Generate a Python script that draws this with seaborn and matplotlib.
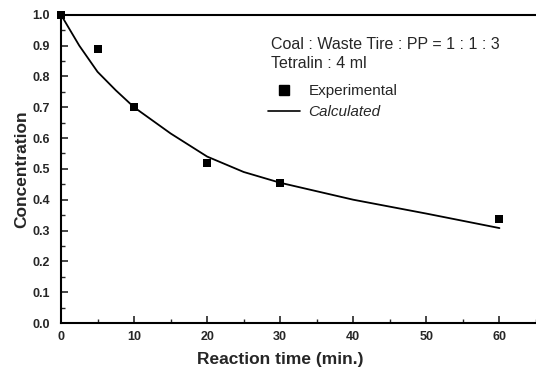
import matplotlib
matplotlib.use("Agg")
import matplotlib.pyplot as plt
import seaborn as sns
import pandas as pd
from matplotlib.ticker import MultipleLocator
from matplotlib.lines import Line2D

exp_time = [0, 5, 10, 20, 30, 60]
exp_conc = [1.0, 0.89, 0.70, 0.52, 0.453, 0.337]
calc_time = [0, 2.5, 5, 7.5, 10, 15, 20, 25, 30, 40, 50, 60]
calc_conc = [1.0, 0.90, 0.815, 0.755, 0.70, 0.615, 0.54, 0.49, 0.455, 0.40, 0.355, 0.308]
x_ticks = [0, 10, 20, 30, 40, 50, 60]
y_ticks = [0.0, 0.1, 0.2, 0.3, 0.4, 0.5, 0.6, 0.7, 0.8, 0.9, 1.0]

sns.set_style("ticks")
plt.rcParams['font.family'] = ['Liberation Sans', 'DejaVu Sans']

fig = plt.figure(figsize=(5.36, 3.70), dpi=100)
ax = fig.add_axes([0.1138, 0.127, 0.8862, 0.833])

df_exp = pd.DataFrame({"t": exp_time, "c": exp_conc})
df_calc = pd.DataFrame({"t": calc_time, "c": calc_conc})
sns.lineplot(data=df_calc, x="t", y="c", ax=ax, color="black", lw=1.3)
sns.scatterplot(data=df_exp, x="t", y="c", ax=ax, color="black", marker="s",
                s=40, edgecolor="black", linewidth=0, zorder=5, clip_on=False)

ax.set_xlim(0, 65)
ax.set_ylim(0, 1.0)
ax.set_xticks(x_ticks)
ax.set_yticks(y_ticks)
ax.set_yticklabels([f"{v:.1f}" for v in y_ticks])
ax.xaxis.set_minor_locator(MultipleLocator(5))
ax.yaxis.set_minor_locator(MultipleLocator(0.05))
ax.tick_params(axis="both", which="major", direction="in", length=5, width=1.2,
               labelsize=9)
ax.tick_params(axis="x", which="major", pad=6)
ax.tick_params(axis="y", which="major", pad=8)
ax.tick_params(axis="both", which="minor", direction="in", length=3, width=1.0)
for lab in ax.get_xticklabels() + ax.get_yticklabels():
    lab.set_fontweight("bold")

for s in ["left", "bottom", "top"]:
    ax.spines[s].set_linewidth(1.5)
    ax.spines[s].set_color("black")
ax.spines["right"].set_visible(False)

ax.set_xlabel("Reaction time (min.)", fontsize=12.5, fontweight="bold")
ax.xaxis.set_label_coords(0.462, -0.094)
ax.set_ylabel("Concentration", fontsize=12.5, fontweight="bold", labelpad=2.5)

ax.text(0.442, 0.905, "Coal : Waste Tire : PP = 1 : 1 : 3", transform=ax.transAxes,
        fontsize=11.5, ha="left", va="center")
ax.text(0.442, 0.842, "Tetralin : 4 ml", transform=ax.transAxes,
        fontsize=11.5, ha="left", va="center")

handles = [Line2D([], [], color="black", marker="s", ls="none", markersize=6.5),
           Line2D([], [], color="black", lw=1.2)]
leg = ax.legend(handles, ["Experimental", "Calculated"], loc="upper left",
                bbox_to_anchor=(0.436, 0.774), frameon=False, fontsize=11,
                handlelength=2.1, handletextpad=0.55, labelspacing=0.42,
                borderaxespad=0, borderpad=0)
leg.get_texts()[1].set_fontstyle("italic")

fig.savefig("out.png", dpi=100)
